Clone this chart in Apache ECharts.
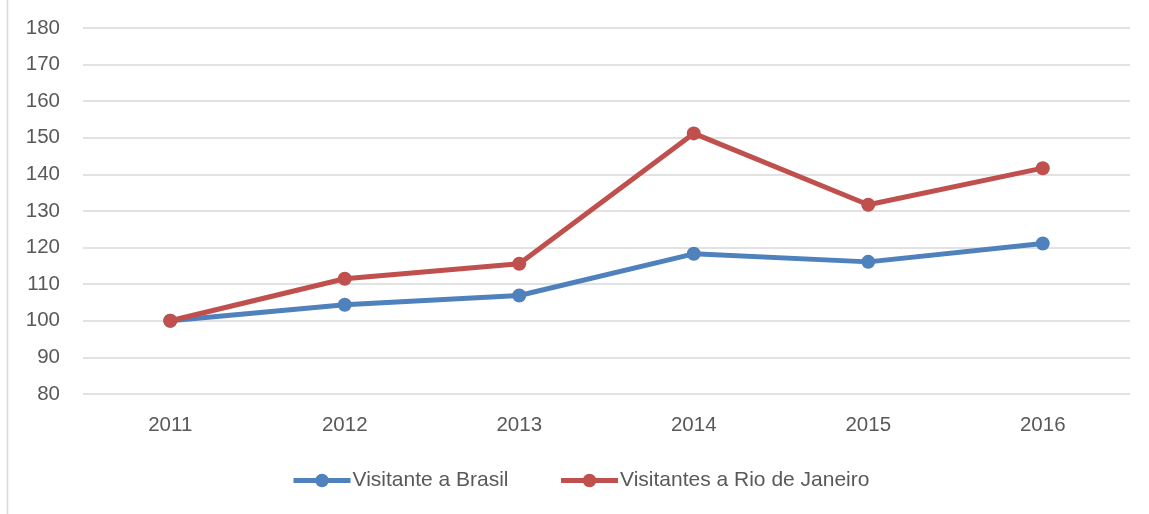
<!DOCTYPE html>
<html><head><meta charset="utf-8">
<script src="https://cdn.jsdelivr.net/npm/echarts@6/dist/echarts.min.js"></script>
<style>html,body{margin:0;padding:0;background:#fff}#c{width:1149px;height:514px}</style>
</head><body><div id="c"></div>
<script>
const categories = ['2011','2012','2013','2014','2015','2016'];
const brasil = [100, 104.4, 106.9, 118.3, 116.1, 121.1];
const rio = [100, 111.5, 115.6, 151.2, 131.7, 141.7];
const seriesNames = ['Visitante a Brasil', 'Visitantes a Rio de Janeiro'];

const chart = echarts.init(document.getElementById('c'));
const font = 'Liberation Sans, Arial, sans-serif';
const txt = '#595959';
chart.setOption({
  animation: false,
  textStyle: {fontFamily: font},
  graphic: [{type: 'line', shape: {x1: 7.5, y1: 0, x2: 7.5, y2: 514}, style: {stroke: '#d9d9d9', lineWidth: 1.5}}],
  grid: {left: 83, right: 19, top: 28, bottom: 120},
  legend: {
    top: 465, left: 286, itemGap: 50, itemWidth: 57, itemHeight: 17,
    lineStyle: {width: 5},
    textStyle: {color: txt, fontSize: 21, fontFamily: font, padding: [0, 0, 0, -3]},
    data: seriesNames
  },
  xAxis: {
    type: 'category', data: categories, boundaryGap: true,
    axisLine: {show: false}, axisTick: {show: false},
    axisLabel: {color: txt, fontSize: 20.5, margin: 21}
  },
  yAxis: {
    type: 'value', min: 80, max: 180, interval: 10,
    axisLine: {show: false}, axisTick: {show: false},
    axisLabel: {color: txt, fontSize: 20.5, margin: 23},
    splitLine: {lineStyle: {color: '#d9d9d9', width: 1.5}}
  },
  series: [
    {name: seriesNames[0], type: 'line', data: brasil, color: '#4F81BD',
     symbol: 'circle', symbolSize: 14, lineStyle: {width: 5, color: '#4F81BD'}, itemStyle: {color: '#4F81BD'}},
    {name: seriesNames[1], type: 'line', data: rio, color: '#C0504D',
     symbol: 'circle', symbolSize: 14, lineStyle: {width: 5, color: '#C0504D'}, itemStyle: {color: '#C0504D'}}
  ]
});
</script></body></html>
